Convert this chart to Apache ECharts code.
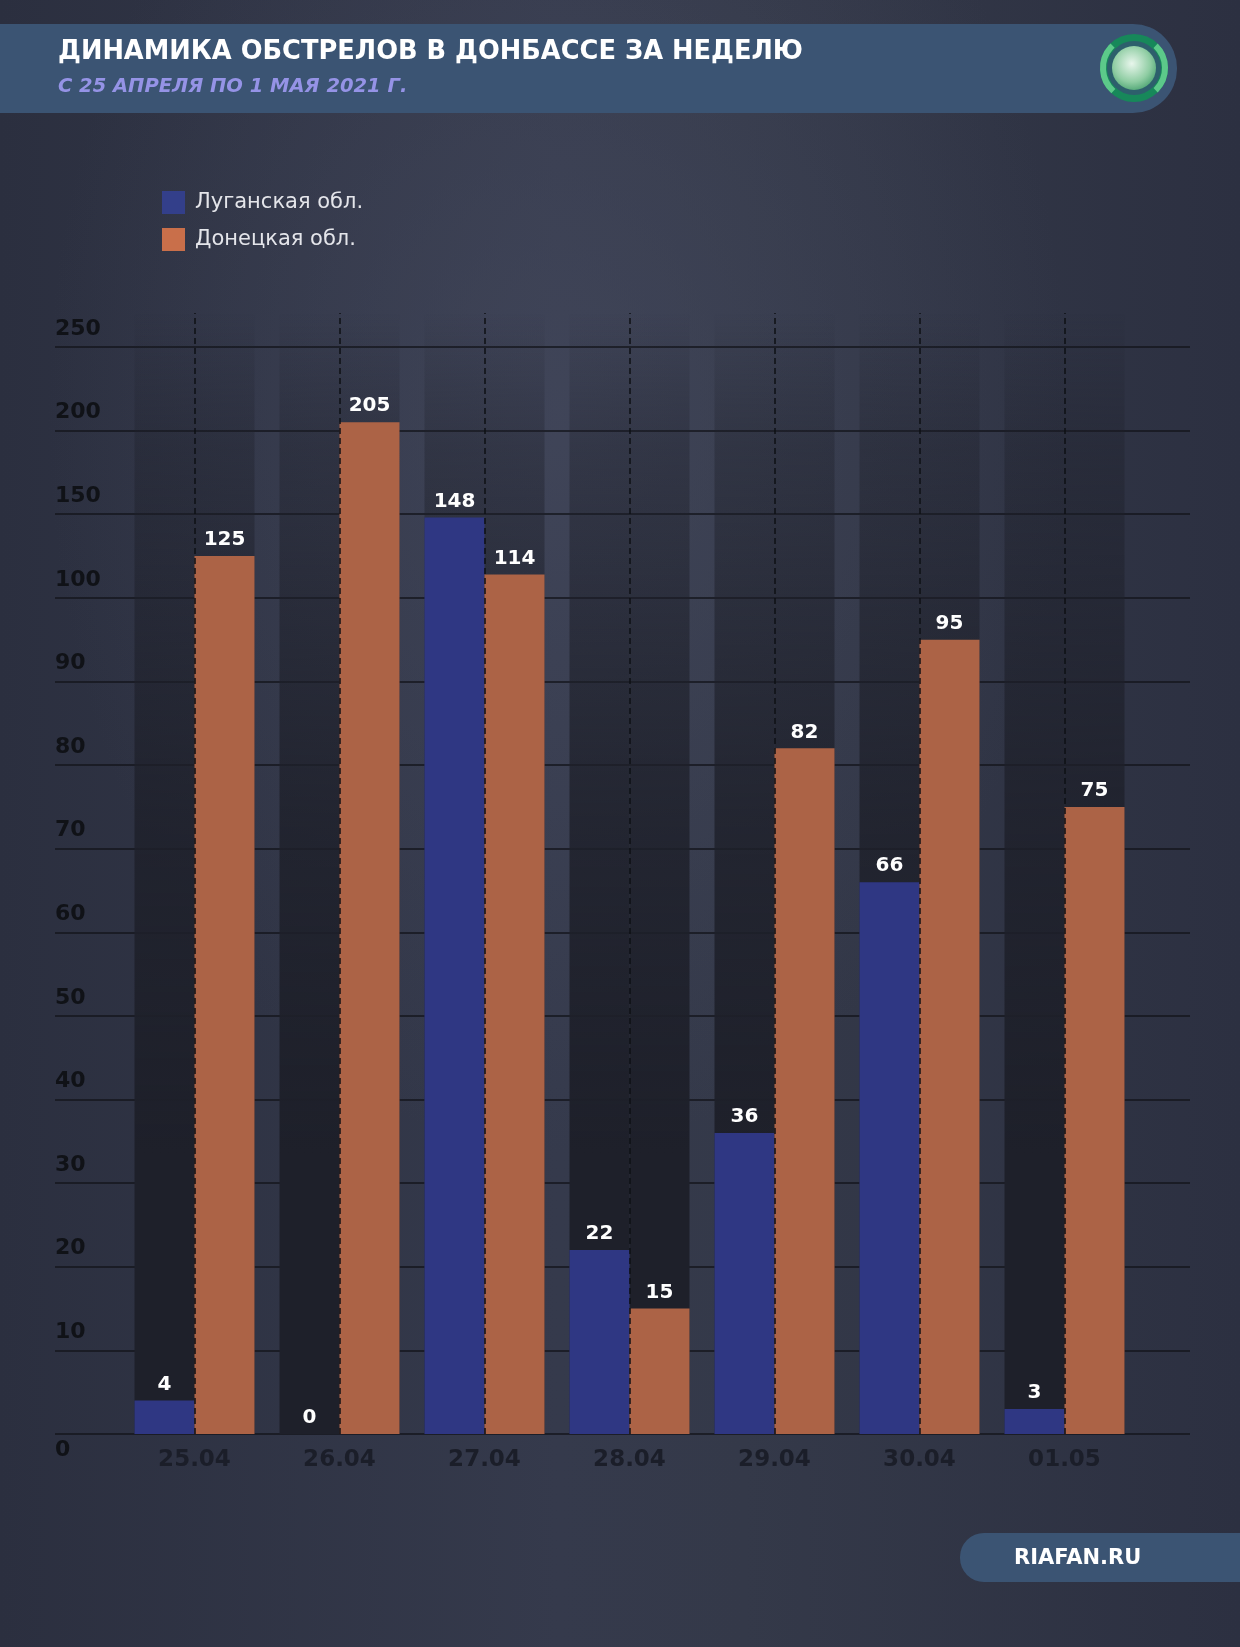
<!DOCTYPE html>
<html><head><meta charset="utf-8">
<script src="https://cdn.jsdelivr.net/npm/echarts@6/dist/echarts.min.js"></script>
<style>
html,body{margin:0;padding:0;}
body{width:1240px;height:1647px;background:
 radial-gradient(ellipse 55% 60% at 45% 25%, rgba(72,77,98,0.55), rgba(0,0,0,0) 75%),
 linear-gradient(90deg,#2b2f3f 0%,#353a4c 45%,#343949 60%,#2c3041 100%);}
#c{width:1240px;height:1647px;}
</style></head><body><div id="c"></div>
<script>
const categories = ['25.04','26.04','27.04','28.04','29.04','30.04','01.05'];
const lugansk = [4, 0, 148, 22, 36, 66, 3];
const donetsk = [125, 205, 114, 15, 82, 95, 75];
const yTickValues = [0, 10, 20, 30, 40, 50, 60, 70, 80, 90, 100, 150, 200, 250];
const seriesNames = ['Луганская обл.', 'Донецкая обл.'];
const titleText = 'ДИНАМИКА ОБСТРЕЛОВ В ДОНБАССЕ ЗА НЕДЕЛЮ';
const subtitleText = 'С 25 АПРЕЛЯ ПО 1 МАЯ 2021 Г.';
const sourceText = 'RIAFAN.RU';

// The reference y axis places its ticks evenly although their values are not:
// map a value onto tick-index space by linear interpolation between ticks.
function toAxis(v) {
  for (let i = 0; i < yTickValues.length - 1; i++) {
    const a = yTickValues[i], b = yTickValues[i + 1];
    if (v <= b) return i + (v - a) / (b - a);
  }
  return yTickValues.length - 1;
}

const FONT = 'DejaVu Sans';
const chart = echarts.init(document.getElementById('c'), null, {renderer: 'canvas'});

const gridTop = 347, gridBottom = 213, barTop = 313;
const unit = (1647 - gridBottom - gridTop) / (yTickValues.length - 1);
const barMax = (1647 - gridBottom - barTop) / unit;

const bgGrad = new echarts.graphic.LinearGradient(0, 0, 0, 1, [
  {offset: 0, color: 'rgba(30,32,42,0)'},
  {offset: 0.12, color: 'rgba(30,32,42,0.35)'},
  {offset: 0.45, color: 'rgba(30,32,42,0.8)'},
  {offset: 0.75, color: 'rgba(30,32,42,1)'},
  {offset: 1, color: 'rgba(30,32,42,1)'}
]);

function labelCfg(src) {
  return {
    show: true, position: 'top', distance: 6,
    color: '#ffffff', fontFamily: FONT, fontWeight: 'bold', fontSize: 20,
    formatter: p => String(src[p.dataIndex])
  };
}

const option = {
  animation: false,
  backgroundColor: 'transparent',
  legend: {
    orient: 'vertical', left: 157, top: 186,
    itemWidth: 23, itemHeight: 23, itemGap: 14, icon: 'rect',
    textStyle: {color: '#e4e5ea', fontFamily: FONT, fontSize: 21, padding: [0, 0, 0, 5]},
    data: [
      {name: seriesNames[0], itemStyle: {color: '#333f8a'}},
      {name: seriesNames[1], itemStyle: {color: '#c96f4a'}}
    ]
  },
  grid: [
    {left: 55, right: 50, top: gridTop, bottom: gridBottom},
    {left: 122, right: 103, top: barTop, bottom: gridBottom}
  ],
  xAxis: [
    {gridIndex: 0, type: 'value', show: false, min: 0, max: 1},
    {
      gridIndex: 1, type: 'category', data: categories, z: 5,
      axisLine: {show: false},
      axisTick: {show: true, alignWithLabel: true, inside: true, length: 1647 - gridBottom - barTop,
        lineStyle: {color: '#0e1015', width: 1.5, type: [6, 4]}},
      axisLabel: {color: '#1b1e29', fontFamily: FONT, fontWeight: 'bold', fontSize: 23, margin: 15}
    }
  ],
  yAxis: [
    {
      gridIndex: 0, type: 'value', min: 0, max: yTickValues.length - 1, interval: 1,
      axisLine: {show: false}, axisTick: {show: false},
      splitLine: {show: true, lineStyle: {color: '#14161d', width: 1.5}},
      axisLabel: {
        align: 'left', margin: 0, verticalAlign: 'middle',
        formatter: (val) => {
          const i = Math.round(val);
          return i === 0 ? '{z|' + yTickValues[i] + '}' : '{a|' + yTickValues[i] + '}';
        },
        rich: {
          a: {color: '#101217', fontFamily: FONT, fontWeight: 'bold', fontSize: 22, padding: [0, 0, 36, 0]},
          z: {color: '#101217', fontFamily: FONT, fontWeight: 'bold', fontSize: 22, padding: [32, 0, 0, 0]}
        }
      }
    },
    {gridIndex: 1, type: 'value', show: false, min: 0, max: barMax}
  ],
  series: [
    {
      name: seriesNames[0], type: 'bar', xAxisIndex: 1, yAxisIndex: 1,
      barWidth: 60, barGap: '0%',
      data: lugansk.map(toAxis),
      itemStyle: {color: '#2f3783'},
      showBackground: true, backgroundStyle: {color: bgGrad},
      label: labelCfg(lugansk)
    },
    {
      name: seriesNames[1], type: 'bar', xAxisIndex: 1, yAxisIndex: 1,
      barWidth: 60, barGap: '0%',
      data: donetsk.map(toAxis),
      itemStyle: {color: '#ac6346'},
      showBackground: true, backgroundStyle: {color: bgGrad},
      label: labelCfg(donetsk)
    }
  ],
  graphic: [
    {type: 'rect', z: -1, shape: {x: 0, y: 24, width: 1177, height: 89, r: [0, 44, 44, 0]},
      style: {fill: '#3b5473'}},
    {type: 'text', left: 58, top: 39, style: {text: titleText, fill: '#ffffff',
      font: 'bold 25.7px "DejaVu Sans"'}},
    {type: 'text', left: 58, top: 77, style: {text: subtitleText, fill: '#9593e6',
      font: 'italic bold 19.5px "DejaVu Sans"'}},
    {type: 'group', left: 1100, top: 34, children: [
      {type: 'circle', shape: {cx: 34, cy: 34, r: 34}, style: {fill: '#17885a'}},
      {type: 'arc', shape: {cx: 34, cy: 34, r: 31, startAngle: 2.3, endAngle: 3.95}, style: {stroke: '#5cc98a', lineWidth: 6, fill: null}},
      {type: 'arc', shape: {cx: 34, cy: 34, r: 31, startAngle: -0.8, endAngle: 0.8}, style: {stroke: '#5cc98a', lineWidth: 6, fill: null}},
      {type: 'circle', shape: {cx: 34, cy: 34, r: 27}, style: {fill: '#2d5f6c'}},
      {type: 'circle', shape: {cx: 34, cy: 34, r: 22}, style: {fill: new echarts.graphic.RadialGradient(0.45, 0.4, 0.7, [
        {offset: 0, color: '#e8f6ec'}, {offset: 0.6, color: '#8fcda3'}, {offset: 1, color: '#3c9a67'}])}}
    ]},
    {type: 'rect', z: -1, shape: {x: 960, y: 1533, width: 300, height: 49, r: [24, 0, 0, 24]},
      style: {fill: '#3b5473'}},
    {type: 'text', left: 1014, top: 1548, style: {text: sourceText, fill: '#ffffff',
      font: 'bold 21px "DejaVu Sans"'}}
  ]
};
chart.setOption(option);
</script></body></html>
